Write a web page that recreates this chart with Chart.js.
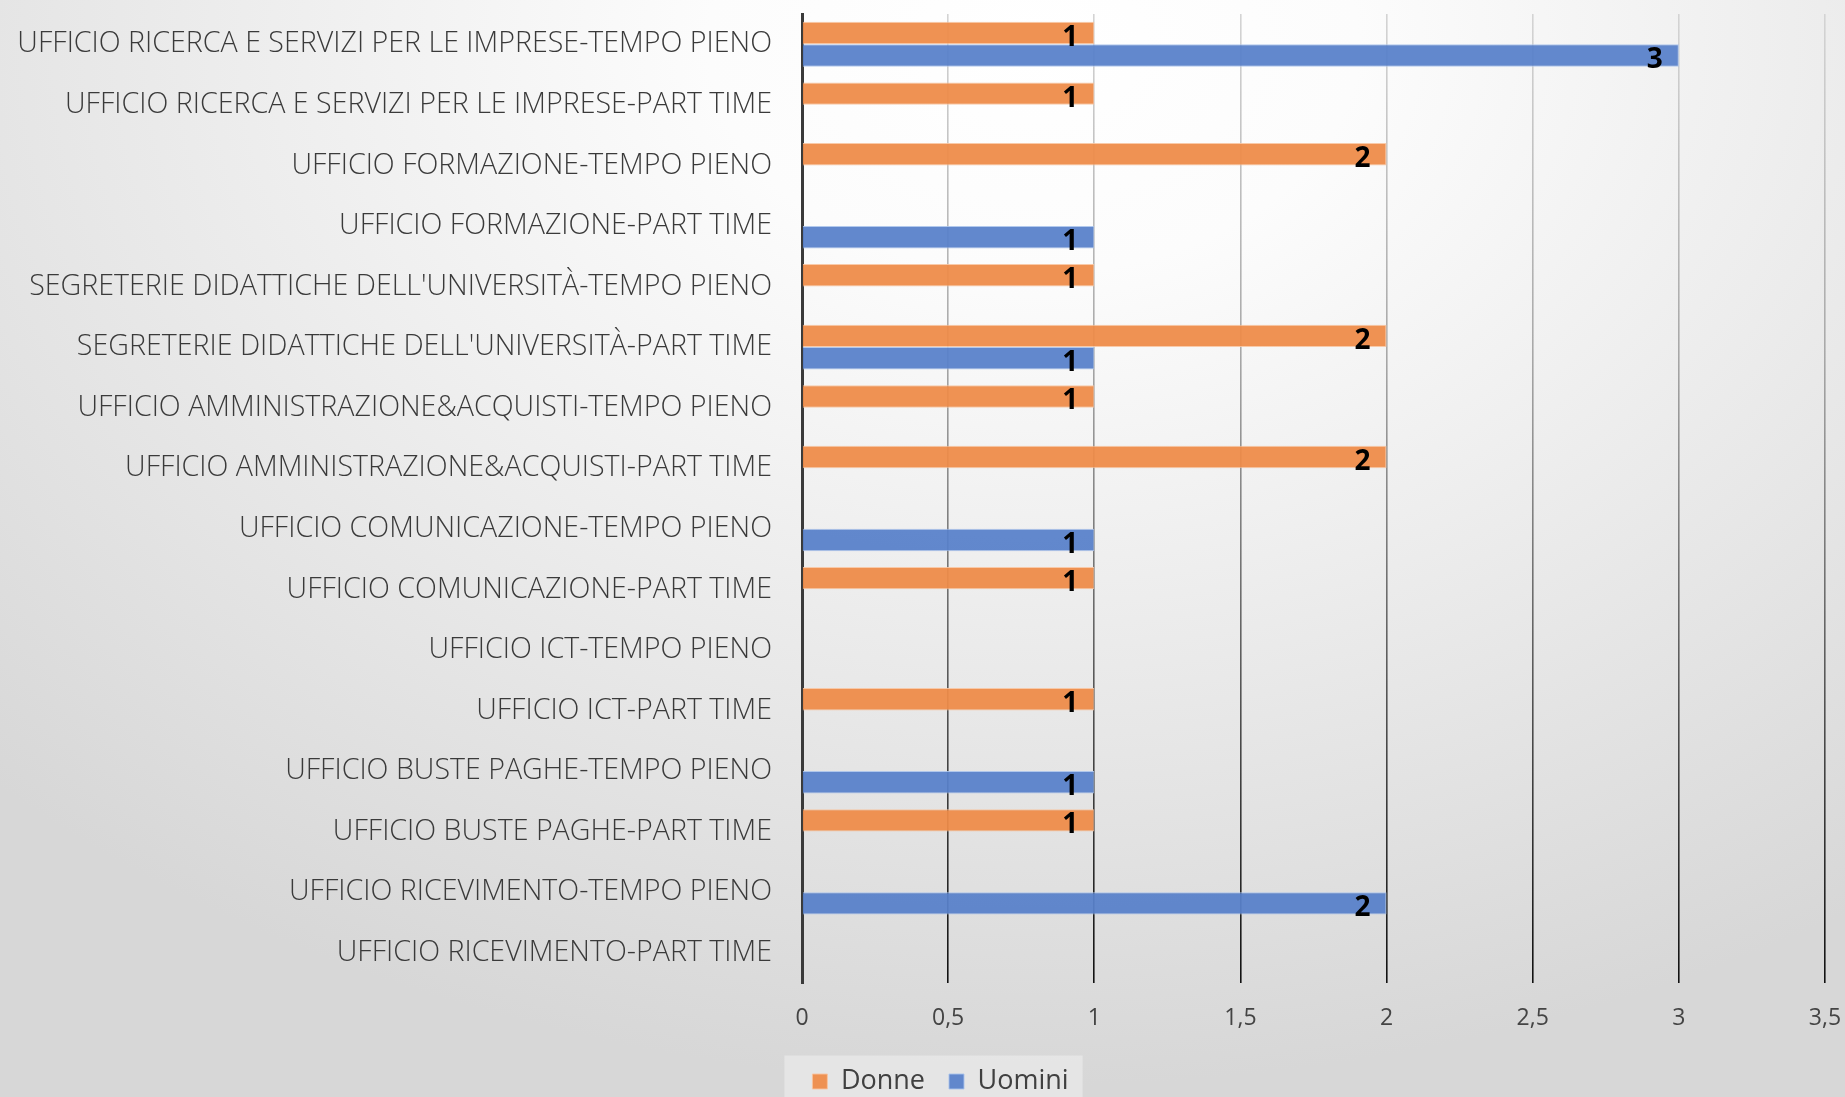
<!DOCTYPE html>
<html>
<head>
<meta charset="utf-8">
<script src="https://cdn.jsdelivr.net/npm/chart.js@4.4.1/dist/chart.umd.min.js"></script>
<style>
html, body { margin: 0; padding: 0; width: 1845px; height: 1097px; overflow: hidden; }
body { background: radial-gradient(ellipse 80% 95% at 56% 4%, #ffffff 0%, #fcfcfc 22%, #e9e9e9 62%, #d7d7d7 100%); }
#wrap { position: absolute; left: 0; top: 0; width: 1845px; height: 1097px; }
</style>
</head>
<body>
<div id="wrap"><canvas id="chart"></canvas></div>
<script>
const categories = [
    "UFFICIO RICERCA E SERVIZI PER LE IMPRESE-TEMPO PIENO",
    "UFFICIO RICERCA E SERVIZI PER LE IMPRESE-PART TIME",
    "UFFICIO FORMAZIONE-TEMPO PIENO",
    "UFFICIO FORMAZIONE-PART TIME",
    "SEGRETERIE DIDATTICHE DELL'UNIVERSITÀ-TEMPO PIENO",
    "SEGRETERIE DIDATTICHE DELL'UNIVERSITÀ-PART TIME",
    "UFFICIO AMMINISTRAZIONE&ACQUISTI-TEMPO PIENO",
    "UFFICIO AMMINISTRAZIONE&ACQUISTI-PART TIME",
    "UFFICIO COMUNICAZIONE-TEMPO PIENO",
    "UFFICIO COMUNICAZIONE-PART TIME",
    "UFFICIO ICT-TEMPO PIENO",
    "UFFICIO ICT-PART TIME",
    "UFFICIO BUSTE PAGHE-TEMPO PIENO",
    "UFFICIO BUSTE PAGHE-PART TIME",
    "UFFICIO RICEVIMENTO-TEMPO PIENO",
    "UFFICIO RICEVIMENTO-PART TIME"
];
const donne  = [1, 1, 2, null, 1, 2, 1, 2, null, 1, null, 1, null, 1, null, null];
const uomini = [3, null, null, 1, null, 1, null, null, 1, null, null, null, 1, null, 2, null];
const xMin = 0;
const xMax = 3.5;
const xStep = 0.5;

// pick a narrow face if there is one, and size it so the longest label fits like the original
function pickLabelFont()
{
    const c = document.createElement('canvas').getContext('2d');
    const longest = categories[0];
    c.font = '100px monospace';
    const mono = c.measureText(longest).width;
    c.font = '100px "Liberation Sans Narrow", monospace';
    const narrow = c.measureText(longest).width;
    const family = Math.abs(narrow - mono) > 1 ? '"Liberation Sans Narrow"' : '"Open Sans"';
    c.font = '300 100px ' + family;
    const size = Math.round(100 * 756 / c.measureText(longest).width * 10) / 10;
    return { family: family, size: size };
}
const labelFont = pickLabelFont();

function gridColor(context)
{
    const chart = context.chart;
    const area = chart.chartArea;
    if (!area) return '#999';
    const g = chart.ctx.createLinearGradient(0, area.top, 0, area.bottom);
    g.addColorStop(0, '#d4d4d4');
    g.addColorStop(0.35, '#a8a8a8');
    g.addColorStop(0.7, '#555');
    g.addColorStop(1, '#111');
    return g;
}

const valueLabels = {
    id: 'valueLabels',
    afterDatasetsDraw(chart) {
        const ctx = chart.ctx;
        ctx.save();
        ctx.font = 'bold 28px "Open Sans"';
        ctx.fillStyle = '#000';
        ctx.textAlign = 'right';
        ctx.textBaseline = 'middle';
        chart.data.datasets.forEach((ds, i) => {
            const meta = chart.getDatasetMeta(i);
            meta.data.forEach((bar, j) => {
                const v = ds.data[j];
                if (v === null || v === undefined) return;
                ctx.fillText(String(v), bar.x - 16, bar.y + 5);
            });
        });
        ctx.restore();
    }
};

// the legend sits a little right of the page centre in the original
const legendShift = {
    id: 'legendShift',
    afterLayout(chart) {
        const lg = chart.legend;
        if (!lg) return;
        lg.left += 18;
        lg.right += 18;
        lg.top += 8;
        lg.bottom += 8;
    },
    beforeDraw(chart) {
        const lg = chart.legend;
        if (!lg || !lg.legendHitBoxes || !lg.legendHitBoxes.length) return;
        const boxes = lg.legendHitBoxes;
        const left = boxes[0].left - 28;
        const right = boxes[boxes.length - 1].left + boxes[boxes.length - 1].width + 14;
        const mid = boxes[0].top + boxes[0].height / 2;
        const ctx = chart.ctx;
        ctx.save();
        ctx.fillStyle = 'rgba(255,255,255,0.35)';
        ctx.fillRect(left, mid - 26, right - left, chart.height - mid + 26);
        ctx.restore();
    }
};

const ctx = document.getElementById('chart').getContext('2d');
const chart = new Chart(ctx, {
    type: 'bar',
    data: {
        labels: categories,
        datasets: [{
            label: 'Donne',
            data: donne,
            backgroundColor: 'rgba(238,139,72,0.94)',
            borderColor: 'rgba(248,196,160,0.9)',
            borderWidth: 1
        }, {
            label: 'Uomini',
            data: uomini,
            backgroundColor: 'rgba(88,129,202,0.94)',
            borderColor: 'rgba(170,195,235,0.9)',
            borderWidth: 1
        }]
    },
    options: {
        indexAxis: 'y',
        responsive: true,
        maintainAspectRatio: false,
        animation: false,
        categoryPercentage: 0.74,
        barPercentage: 1.0,
        layout: { padding: { left: 0, right: 0, top: 14, bottom: 0 } },
        scales: {
            x: {
                min: xMin,
                max: xMax,
                ticks: {
                    stepSize: xStep,
                    padding: 22,
                    color: '#444',
                    font: { family: '"Open Sans"', size: 23 },
                    callback: v => String(v).replace('.', ',')
                },
                grid: { color: gridColor, lineWidth: 1.6, drawTicks: false },
                border: { display: false },
                afterFit: scale => {
                    scale.height = 53;
                    scale.paddingLeft = 0;
                    scale.paddingRight = 20;
                }
            },
            y: {
                ticks: {
                    padding: 30,
                    color: '#3a3a3a',
                    autoSkip: false,
                    font: { family: labelFont.family, size: labelFont.size, weight: '300' }
                },
                grid: { display: false, drawTicks: false },
                border: { display: true, color: '#3a3a3a', width: 3 },
                afterFit: scale => {
                    scale.width = 802;
                    scale.paddingTop = 0;
                    scale.paddingBottom = 0;
                }
            }
        },
        plugins: {
            legend: {
                position: 'bottom',
                labels: {
                    boxWidth: 15,
                    boxHeight: 15,
                    padding: 24,
                    color: '#404040',
                    font: { family: '"Open Sans"', size: 27 }
                }
            },
            tooltip: { enabled: false }
        }
    },
    plugins: [valueLabels, legendShift]
});
</script>
</body>
</html>
